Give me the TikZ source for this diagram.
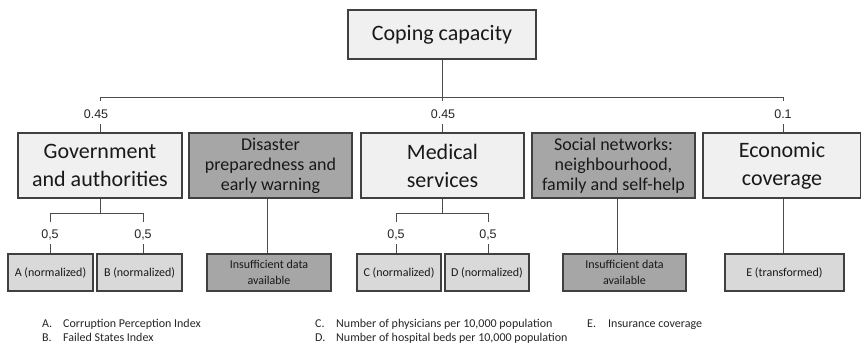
\documentclass[tikz,border=0pt]{standalone}
\usepackage{fontspec}
\setmainfont{Carlito}
\newfontfamily\arialf{Liberation Sans}
\usetikzlibrary{calc}
\begin{document}
\begin{tikzpicture}[x=1pt,y=-1pt,
  boxbase/.style={draw=black!75, line width=1.1pt, align=center, inner sep=2pt, text=black!90},
  toplight/.style={boxbase, fill=black!6, font=\fontsize{22}{28}\selectfont},
  topdark/.style={boxbase, fill=black!35, font=\fontsize{18}{20}\selectfont},
  sublight/.style={boxbase, fill=black!15, font=\fontsize{12}{16}\selectfont, minimum height=37pt},
  subdark/.style={boxbase, fill=black!35, font=\fontsize{12}{16}\selectfont, minimum height=37pt},
  wlabel/.style={font=\arialf\fontsize{12.5}{14}\selectfont, inner sep=0pt, text=black!85},
  leg/.style={font=\fontsize{12}{14}\selectfont, inner sep=0pt, anchor=base west, text=black!85},
  conn/.style={draw=black!70, line width=0.9pt}]
\useasboundingbox (0,0) rectangle (861,345);
\fill[white] (0,0) rectangle (861,345);

% top
\node[toplight, minimum width=188pt, minimum height=49pt] (top) at (442,34.5) {Coping capacity};

% second row
\node[toplight, minimum width=164pt, minimum height=65pt] (gov) at (100,165.5) {Government\\and authorities};
\node[topdark, minimum width=163pt, minimum height=65pt] (dis) at (270.5,165.5) {Disaster\\preparedness and\\early warning};
\node[toplight, minimum width=163pt, minimum height=65pt] (med) at (442.5,165.5) {Medical\\services};
\node[topdark, minimum width=163pt, minimum height=65pt] (soc) at (613.5,165.5) {Social networks:\\neighbourhood,\\family and self-help};
\node[toplight, minimum width=158pt, minimum height=65pt] (eco) at (782,165.5) {Economic\\coverage};

% third row
\node[sublight, minimum width=85pt] (A) at (50.5,272.5) {A (normalized)};
\node[sublight, minimum width=85pt] (B) at (139.5,272.5) {B (normalized)};
\node[subdark, minimum width=124pt] (ins1) at (269,272.5) {Insufficient data\\available};
\node[sublight, minimum width=84pt] (C) at (399,272.5) {C (normalized)};
\node[sublight, minimum width=84pt] (D) at (487,272.5) {D (normalized)};
\node[subdark, minimum width=123pt] (ins2) at (624.5,272.5) {Insufficient data\\available};
\node[sublight, minimum width=119pt] (E) at (784.5,272.5) {E (transformed)};

% top level connectors
\coordinate (hl) at (100,97);
\coordinate (hr) at (783,97);
\draw[conn] (top.south) -- ($(top.south |- hl)+(0,4)$);
\draw[conn] ($(hl)+(0,4)$) -- (hl) -- (hr) -- ($(hr)+(0,4)$);
\node[wlabel] (w1) at (96,114) {0.45};
\node[wlabel] (w2) at (443,114) {0.45};
\node[wlabel] (w3) at (783,114) {0.1};
\draw[conn] (gov.north) -- ++(0,-8);
\draw[conn] (med.north) -- ++(0,-8);
\draw[conn] (eco.north -| hr) -- ++(0,-8);

% government bracket
\coordinate (gL) at (50,213);
\coordinate (gR) at (143,213);
\draw[conn] (gov.south) -- (gov.south |- gL);
\draw[conn] ($(gL)+(0,9)$) -- (gL) -- (gR) -- ($(gR)+(0,9)$);
\node[wlabel] (g1) at (50,235) {0,5};
\node[wlabel] (g2) at (143,235) {0,5};
\draw[conn] (A.north -| gL) -- ++(0,-9);
\draw[conn] (B.north -| gR) -- ++(0,-9);

% medical bracket
\coordinate (mL) at (396,213);
\coordinate (mR) at (488,213);
\draw[conn] (med.south) -- (med.south |- mL);
\draw[conn] ($(mL)+(0,9)$) -- (mL) -- (mR) -- ($(mR)+(0,9)$);
\node[wlabel] (m1) at (396,235) {0,5};
\node[wlabel] (m2) at (488,235) {0,5};
\draw[conn] (C.north -| mL) -- ++(0,-9);
\draw[conn] (D.north -| mR) -- ++(0,-9);

% single stems
\draw[conn] (ins1.north -| 267,0) -- (dis.south -| 267,0);
\coordinate (ss) at (617,0);
\draw[conn] (soc.south -| ss) -- (ins2.north -| ss);
\draw[conn] (eco.south -| hr) -- (E.north -| hr);

% legend
\node[leg] (la) at (42,327) {A.};
\node[leg] (lat) at (63,327) {Corruption Perception Index};
\node[leg] (lb) at (42,341) {B.};
\node[leg] (lbt) at (63,341) {Failed States Index};
\node[leg] (lc) at (315,327) {C.};
\node[leg] (lct) at (336,327) {Number of physicians per 10,000 population};
\node[leg] (ld) at (315,341) {D.};
\node[leg] (ldt) at (336,341) {Number of hospital beds per 10,000 population};
\node[leg] (le) at (587,327) {E.};
\node[leg] (let) at (608,327) {Insurance coverage};
\end{tikzpicture}
\end{document}
